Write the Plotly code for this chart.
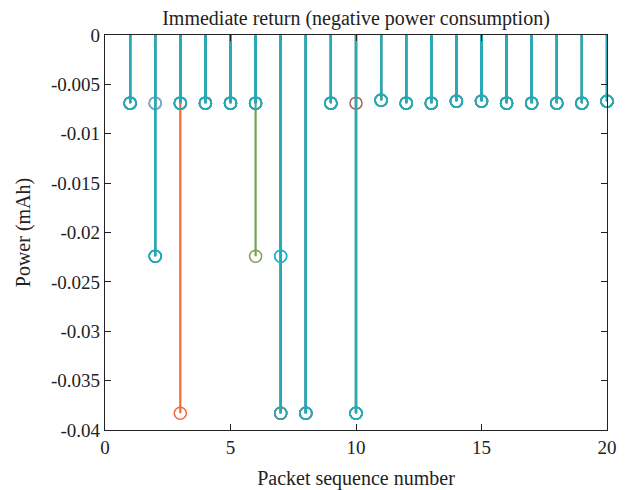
import plotly.graph_objects as go

packets = list(range(1, 21))

# Each series = one run (mAh, negative = consumption)
orange = [-0.0069, -0.0069, -0.0383, -0.0069, -0.0069, -0.0069, -0.0383, -0.0383, -0.0069, -0.0383,
          -0.0066, -0.0069, -0.0069, -0.0067, -0.0067, -0.0069, -0.0069, -0.0069, -0.0069, -0.0067]
olive = [-0.0069, -0.0069, -0.0069, -0.0069, -0.0069, -0.0224, -0.0383, -0.0383, -0.0069, -0.0383,
         -0.0066, -0.0069, -0.0069, -0.0067, -0.0067, -0.0069, -0.0069, -0.0069, -0.0069, -0.0067]
lightblue = [-0.0069, -0.0069, -0.0069, -0.0069, -0.0069, -0.0069, -0.0383, -0.0383, -0.0069, -0.0383,
             -0.0066, -0.0069, -0.0069, -0.0067, -0.0067, -0.0069, -0.0069, -0.0069, -0.0069, -0.0067]
brown = [-0.0069, -0.0224, -0.0069, -0.0069, -0.0069, -0.0069, -0.0383, -0.0383, -0.0069, -0.0069,
         -0.0066, -0.0069, -0.0069, -0.0067, -0.0067, -0.0069, -0.0069, -0.0069, -0.0069, -0.0067]
teal2 = [-0.0069, -0.0224, -0.0069, -0.0069, -0.0069, -0.0069, -0.0224, -0.0383, -0.0069, -0.0383,
         -0.0066, -0.0069, -0.0069, -0.0067, -0.0067, -0.0069, -0.0069, -0.0069, -0.0069, -0.0067]
cyan = [-0.0069, -0.0224, -0.0069, -0.0069, -0.0069, -0.0069, -0.0224, -0.0383, -0.0069, -0.0383,
        -0.0066, -0.0069, -0.0069, -0.0067, -0.0067, -0.0069, -0.0069, -0.0069, -0.0069, -0.0067]
teal = [-0.0069, -0.0224, -0.0069, -0.0069, -0.0069, -0.0069, -0.0383, -0.0383, -0.0069, -0.0383,
        -0.0066, -0.0069, -0.0069, -0.0067, -0.0067, -0.0069, -0.0069, -0.0069, -0.0069, -0.0067]

series = [
    ("orange", orange, "#f26a3a"),
    ("olive", olive, "#78a055"),
    ("lightblue", lightblue, "#6fb0e6"),
    ("brown", brown, "#a5645a"),
    ("teal2", teal2, "#33a3a3"),
    ("cyan", cyan, "#18b8d4"),
    ("teal", teal, "#25aab6"),
]

ytickvals = [0, -0.005, -0.01, -0.015, -0.02, -0.025, -0.03, -0.035, -0.04]
yticktext = ["0", "-0.005", "-0.01", "-0.015", "-0.02", "-0.025", "-0.03", "-0.035", "-0.04"]
xtickvals = [0, 5, 10, 15, 20]

fig = go.Figure()
for name, vals, color in series:
    sx, sy = [], []
    for x, v in zip(packets, vals):
        sx += [x, x, None]
        sy += [0, v, None]
    fig.add_trace(go.Scatter(x=sx, y=sy, mode="lines", line=dict(color=color, width=2.2),
                             hoverinfo="skip", showlegend=False, cliponaxis=False))
    fig.add_trace(go.Scatter(x=packets, y=vals, mode="markers", name=name,
                             marker=dict(symbol="circle-open", size=12, color=color,
                                         line=dict(width=1.5, color=color)),
                             showlegend=False, cliponaxis=False))

W, H = 624, 482
font_family = "Liberation Serif, Times New Roman, serif"
fig.update_layout(
    width=W, height=H,
    margin=dict(l=97, r=25, t=27, b=60, autoexpand=False),
    plot_bgcolor="white", paper_bgcolor="white",
    font=dict(family=font_family, size=19, color="#222222"),
    title=dict(text="Immediate return (negative power consumption)", x=0.5, xref="paper",
               xanchor="center", y=1 - 3 / H, yref="container", yanchor="top", automargin=False,
               pad=dict(t=0, b=0),
               font=dict(family=font_family, size=20, color="#222222")),
)
fig.update_xaxes(range=[0, 20], tickvals=xtickvals, ticks="inside", ticklen=6,
                 showline=True, linecolor="#222222", linewidth=1.2, mirror="ticks",
                 showgrid=False, zeroline=False, tickcolor="#222222", automargin=False,
                 tickfont=dict(size=19),
                 title=dict(text="Packet sequence number", font=dict(size=20)))
fig.update_yaxes(range=[-0.04, 0], tickvals=ytickvals, ticktext=yticktext, ticks="inside", ticklen=6,
                 showline=True, linecolor="#222222", linewidth=1.2, mirror="ticks",
                 showgrid=False, zeroline=False, tickcolor="#222222", automargin=False,
                 tickfont=dict(size=19),
                 title=dict(text="Power (mAh)", font=dict(size=20)))

fig.write_html("out.html")
